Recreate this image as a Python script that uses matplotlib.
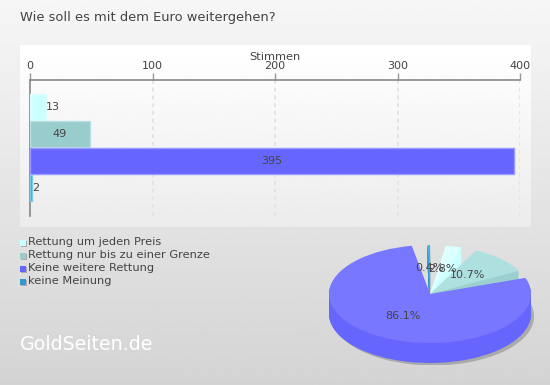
import numpy as np
from matplotlib import pyplot as plt
from matplotlib.patches import Wedge, Rectangle

title = 'Wie soll es mit dem Euro weitergehen?'
categories = ['Rettung um jeden Preis', 'Rettung nur bis zu einer Grenze',
              'Keine weitere Rettung', 'keine Meinung']
votes = [13, 49, 395, 2]
xticks = [0, 100, 200, 300, 400]
bar_colors = ['#ccffff', '#99cccc', '#6666ff', '#3399cc']
edge_colors = ['#e0ffff', '#b8e0e0', '#9999ff', '#77ccee']
top_colors = ['#ddffff', '#aee0e0', '#7777ff', '#44b0e0']
side_colors = ['#ccffff', '#9ccfcf', '#6666ff', '#3399cc']
txt = '#444444'

W, H = 550, 385
plt.rcParams['font.family'] = 'DejaVu Sans'
fig = plt.figure(figsize=(W / 100, H / 100), dpi=100)


def axes_px(x0, y0, x1, y1, **kw):
    return fig.add_axes([x0 / W, 1 - y1 / H, (x1 - x0) / W, (y1 - y0) / H], **kw)


# background and panel gradients
bg = axes_px(0, 0, W, H)
bg.axis('off')
grad = np.linspace(0.965, 0.83, 200).reshape(-1, 1)
bg.imshow(grad, extent=[0, W, H, 0], cmap='gray', vmin=0, vmax=1, aspect='auto')
panel = np.linspace(1.0, 0.925, 100).reshape(-1, 1)
bg.imshow(panel, extent=[20, 531, 227, 45], cmap='gray', vmin=0, vmax=1, aspect='auto')
bg.set_xlim(0, W)
bg.set_ylim(H, 0)

bg.text(20, 17, title, fontsize=9.4, color=txt, va='center', ha='left')
bg.text(20, 345, 'GoldSeiten.de', fontsize=13.7, color='white', va='center', ha='left')
bg.text(275, 56.5, 'Stimmen', fontsize=8.2, color=txt, va='center', ha='center')

# legend
for i, name in enumerate(categories):
    y = 243 + i * 13
    bg.add_patch(Rectangle((21, y - 2), 6, 6, color='#aaaaaa', lw=0))
    bg.add_patch(Rectangle((20, y - 3), 6, 6, color=bar_colors[i], lw=0))
    bg.text(28, y - 1, name, fontsize=8.2, color=txt, va='center', ha='left')

# bars
ax = axes_px(30, 80, 520, 216)
ax.patch.set_visible(False)
bars = ax.barh(range(len(votes)), votes, height=0.96, color=bar_colors,
               edgecolor=edge_colors, linewidth=1, zorder=3)
ax.set_xlim(0, 400)
ax.set_ylim(4.04, -1)
ax.xaxis.tick_top()
ax.set_xticks(xticks)
ax.tick_params(axis='x', length=5, width=1, color='#999999', labelcolor=txt, labelsize=8, pad=1.2)
ax.set_yticks([])
ax.grid(axis='x', color='#e4e4e4', linestyle=(0, (2, 2)), linewidth=1.4, zorder=1)
for s in ['right', 'bottom']:
    ax.spines[s].set_visible(False)
for s in ['top', 'left']:
    ax.spines[s].set_color('#888888')
    ax.spines[s].set_linewidth(1.2)
for i, v in enumerate(votes):
    if v > 20:
        ax.text(v / 2, i, str(v), color=txt, fontsize=8, ha='center', va='center', zorder=5)
    else:
        ax.annotate(str(v), (v, i), xytext=(0, 0), textcoords='offset points', color=txt,
                    fontsize=8, ha='left', va='center', zorder=5)

# 3D pie, slices are separated by a fixed angular gap
px = axes_px(320, 235, 540, 365)
px.set_xlim(-110 / 101, 110 / 101)
px.set_ylim(-71 / 49, 59 / 49)
px.axis('off')
gap = 9.0
scale = (360 - gap * len(votes)) / sum(votes)
depth = 20 / 49
order = [3, 0, 1, 2]
theta = 91.4
spans = {}
for i in order:
    spans[i] = (theta - votes[i] * scale, theta)
    theta = spans[i][0] - gap

t1, t2 = spans[2]
px.add_patch(Wedge((0.03, -depth - 0.05), 1.0, t1, t2, color='#aaaaaa', lw=0))
for i in order:
    t1, t2 = spans[i]
    for d in np.linspace(depth, 0.02, 24):
        px.add_patch(Wedge((0, -d), 1.0, t1, t2, color=side_colors[i], lw=0))
    px.add_patch(Wedge((0, 0), 1.0, t1, t2, color=top_colors[i], lw=0))

total = sum(votes)
for i in [2, 3, 0, 1]:
    mid = np.radians(sum(spans[i]) / 2)
    px.text(0.53 * np.cos(mid), 0.53 * np.sin(mid), '%.1f%%' % (100 * votes[i] / total),
            fontsize=8, color=txt, ha='center', va='center')

fig.savefig('out.png', dpi=100)
plt.close()
